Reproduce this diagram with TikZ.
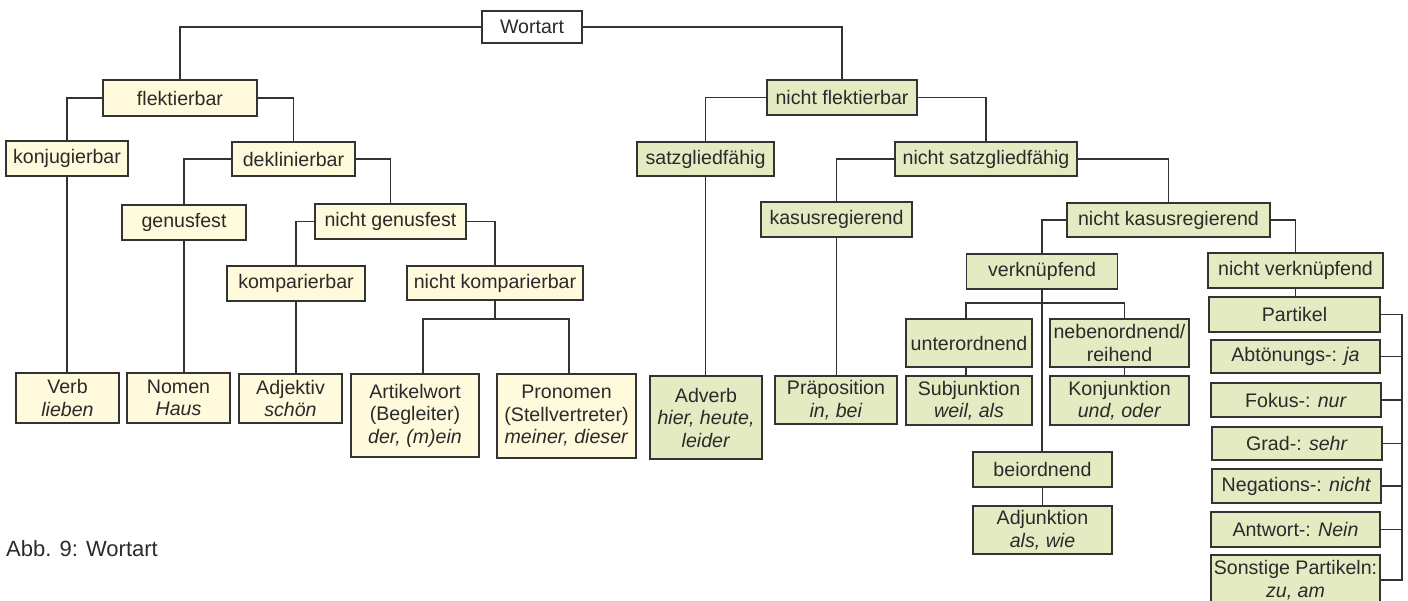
\documentclass[tikz,border=0pt]{standalone}
\usepackage{fontspec}
\setmainfont{Liberation Sans}
\definecolor{cream}{HTML}{FFFADC}
\definecolor{leaf}{HTML}{E4EBC2}
\definecolor{ink}{HTML}{2A2A2A}
\definecolor{wire}{HTML}{333333}
\tikzset{
  box/.style 2 args={draw=wire, line width=1.2pt, inner sep=0pt, align=center,
    minimum width=#1pt, minimum height=#2pt, text=ink,
    font=\fontsize{19.6}{22.5}\selectfont},
  ybox/.style 2 args={box={#1}{#2}, fill=cream},
  gbox/.style 2 args={box={#1}{#2}, fill=leaf},
  conn/.style={draw=wire, line width=1.3pt},
}
\begin{document}
\begin{tikzpicture}[x=1pt,y=-1pt]
\useasboundingbox (0,0) rectangle (1408,601);
\clip (0,0) rectangle (1408,601);
% root
\node[box={100}{32}, fill=white, line width=2.6pt] (wort) at (532,27) {Wortart};
% left branch
\node[ybox={154}{36}] (flek) at (180,98) {flektierbar};
\node[ybox={122}{35}] (konj) at (67,158.5) {konjugierbar};
\node[ybox={123}{34}] (dekl) at (293.5,159) {deklinierbar};
\node[ybox={124}{35}] (genf) at (184,222.5) {genusfest};
\node[ybox={151}{35}] (ngen) at (390.5,221.5) {nicht genusfest};
\node[ybox={138}{35}] (komp) at (296,283.5) {komparierbar};
\node[ybox={176}{34}] (nkomp) at (495,283) {nicht komparierbar};
\node[ybox={103}{50}] (verb) at (67.5,398) {Verb\\\textit{lieben}};
\node[ybox={103}{50}] (nomen) at (178.5,398) {Nomen\\\textit{Haus}};
\node[ybox={103}{49}] (adj) at (290.5,398.5) {Adjektiv\\\textit{schön}};
\node[ybox={128}{83}] (art) at (415,415.5) {Artikelwort\\(Begleiter)\\\textit{der, (m)ein}};
\node[ybox={139}{84}] (pro) at (566.5,416) {Pronomen\\(Stellvertreter)\\\textit{meiner, dieser}};
% right branch
\node[gbox={150}{35}] (nflek) at (842,97.5) {nicht flektierbar};
\node[gbox={137}{34}] (satz) at (705.5,159) {satzgliedfähig};
\node[gbox={182}{34}] (nsatz) at (986,159) {nicht satzgliedfähig};
\node[gbox={151}{35}] (kasus) at (836.5,219.5) {kasusregierend};
\node[gbox={112}{83}] (adv) at (706,417.5) {Adverb\\\textit{hier, heute,}\\\textit{leider}};
\node[gbox={122}{48}] (praep) at (836,400) {Präposition\\\textit{in, bei}};
\node[gbox={203}{34}] (nkasus) at (1168.5,220) {nicht kasusregierend};
\node[gbox={151}{35}] (verk) at (1042,271.5) {verknüpfend};
\node[gbox={175}{35}] (nverk) at (1295.5,270.5) {nicht verknüpfend};
\node[gbox={126}{48}] (unter) at (969,343) {unterordnend};
\node[gbox={126}{49}] (subj) at (969,400.5) {Subjunktion\\\textit{weil, als}};
\node[gbox={139}{48}] (neben) at (1119.5,343) {nebenordnend/\\reihend};
\node[gbox={139}{49}] (konjk) at (1119.5,400.5) {Konjunktion\\\textit{und, oder}};
\node[gbox={139}{35}] (beio) at (1042.5,469.5) {beiordnend};
\node[gbox={139}{48}] (adju) at (1042.5,530) {Adjunktion\\\textit{als, wie}};
% Partikel column
\node[gbox={171}{35}] (part) at (1294.5,314.5) {Partikel};
\node[gbox={169}{33}] (abt) at (1295.5,356.5) {Abtönungs-: \textit{ja}};
\node[gbox={170}{34}] (fok) at (1296,400) {Fokus-: \textit{nur}};
\node[gbox={170}{33}] (grad) at (1297,443.5) {Grad-: \textit{sehr}};
\node[gbox={169}{34}] (neg) at (1296.5,486) {Negations-: \textit{nicht}};
\node[gbox={169}{35}] (antw) at (1295.5,529.5) {Antwort-: \textit{Nein}};
\node[gbox={169}{50}] (sonst) at (1295.5,580) {Sonstige Partikeln:\\\textit{zu, am}};
% caption
\node[anchor=base west, inner sep=0pt, text=ink, font=\fontsize{22}{26}\selectfont] (cap) at (6,556) {Abb. 9: Wortart};
% connectors
\coordinate (nkj) at (495,319);
\coordinate (vj) at (1042,303);
\coordinate (rail) at (1402,0);
\path[conn] (flek.north) |- (wort.west);
\path[conn] (wort.east) -| (nflek.north);
\path[conn] (flek.west) -| (konj.north);
\path[conn] (flek.east) -| (dekl.north);
\path[conn] (konj.south) -- (konj.south |- verb.north);
\path[conn] (dekl.west) -| (genf.north);
\path[conn] (dekl.east) -| (ngen.north);
\path[conn] (genf.south) -- (genf.south |- nomen.north);
\path[conn] (ngen.west) -| (komp.north);
\path[conn] (ngen.east) -| (nkomp.north);
\path[conn] (komp.south) -- (komp.south |- adj.north);
\path[conn] (nkomp.south) -- (nkj);
\path[conn] ([xshift=8pt]art.north) |- (nkj) -| ([xshift=2.5pt]pro.north);
\path[conn] (nflek.west) -| (satz.north);
\path[conn] (nflek.east) -| (nsatz.north);
\path[conn] (satz.south) -- (satz.south |- adv.north);
\path[conn] (nsatz.west) -| (kasus.north);
\path[conn] (nsatz.east) -| (nkasus.north);
\path[conn] (kasus.south) -- (kasus.south |- praep.north);
\path[conn] (nkasus.west) -| (verk.north);
\path[conn] (nkasus.east) -| (nverk.north);
\path[conn] (verk.south) -- (verk.south |- beio.north);
\path[conn] (beio.south) -- (beio.south |- adju.north);
\path[conn] ([xshift=-3pt]unter.north) |- (vj) -| ([xshift=5pt]neben.north);
\path[conn] ([xshift=-3pt]unter.south) -- ([xshift=-3pt]subj.north);
\path[conn] ([xshift=5pt]neben.south) -- ([xshift=5pt]konjk.north);
\path[conn] (nverk.south) -- (nverk.south |- part.north);
\path[conn] (part.east) -| (rail |- sonst.east) -- (sonst.east);
\path[conn] (abt.east) -- (abt.east -| rail);
\path[conn] (fok.east) -- (fok.east -| rail);
\path[conn] (grad.east) -- (grad.east -| rail);
\path[conn] (neg.east) -- (neg.east -| rail);
\path[conn] (antw.east) -- (antw.east -| rail);
\end{tikzpicture}
\end{document}
